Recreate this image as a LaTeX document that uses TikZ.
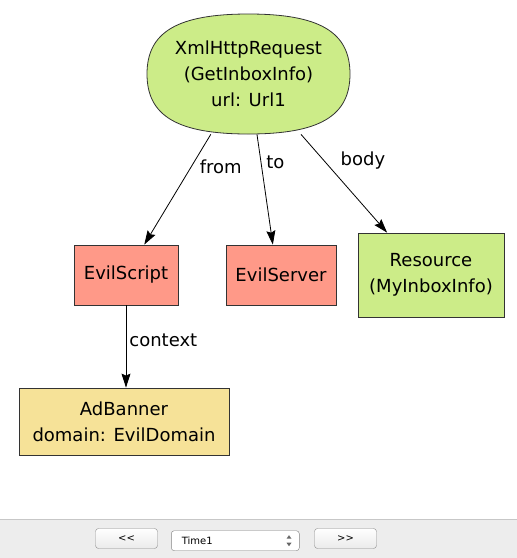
\documentclass[tikz,border=0pt]{standalone}
\usepackage{fontspec}
\setmainfont{DejaVu Sans}
\usetikzlibrary{positioning,arrows.meta}
\definecolor{reqgreen}{RGB}{204,236,136}
\definecolor{evilred}{RGB}{255,153,136}
\definecolor{adyellow}{RGB}{246,226,152}

\begin{document}
\begin{tikzpicture}[x=1pt,y=-1pt,
   box/.style={draw=black!80,line width=0.8pt,align=center,inner sep=0pt,font=\fontsize{18}{26}\selectfont},
   lbl/.style={font=\fontsize{18}{22}\selectfont,inner sep=0pt},
   btn/.style={draw=black!45,rounded corners=3pt,top color=white,bottom color=black!8,minimum width=62pt,minimum height=20pt,inner sep=0pt,font=\fontsize{10}{12}\selectfont}]
   \useasboundingbox (0,0) rectangle (517,558);
   % rounded blob behind the request node
   \path[draw=black!80,line width=0.8pt,fill=reqgreen] (147,74) .. controls (147,32) and (177.5,14) .. (248.5,14)
      .. controls (319.5,14) and (350,32) .. (350,74) .. controls (350,116) and (319.5,134) .. (248.5,134)
      .. controls (177.5,134) and (147,116) .. (147,74) -- cycle;
   \node[box,draw=none,minimum width=203pt,minimum height=120pt] (req) at (248.5,74) {XmlHttpRequest\\(GetInboxInfo)\\url: Url1};
   \node[box,fill=evilred,minimum width=104pt,minimum height=60pt] (es) at (126,275) {EvilScript};
   \node[box,fill=evilred,minimum width=110pt,minimum height=60pt] (sv) at (281,275) {EvilServer};
   \node[box,fill=reqgreen,minimum width=146pt,minimum height=84pt] (rs) at (431,275) {Resource\\(MyInboxInfo)};
   \node[box,fill=adyellow,minimum width=210pt,minimum height=67pt] (ad) at (124,421.5) {AdBanner\\domain: EvilDomain};
   \path[-{Stealth[length=14pt,width=9pt,inset=2pt]},line width=0.8pt]
   (req.238) edge node[pos=.29,right=8pt,lbl] {from} (es.59)
   (req.278) edge node[pos=.25,right=5pt,lbl] {to} (sv.105)
   (req.311) edge node[pos=.27,right=16pt,lbl] {body} (rs.136)
   (es.south) edge node[pos=.43,right=3pt,lbl] {context} (es.south|-ad.north);
   % toolbar
   \fill[black!7] (0,519) rectangle (517,558);
   \draw[black!22] (0,519) -- (517,519);
   \node[btn] (prev) at (126.5,538.5) {<{}<};
   \node[btn,draw=black!50,top color=white,bottom color=white,minimum width=128pt] (time) at (235.3,540.7) {};
   \node[font=\fontsize{10}{12}\selectfont,anchor=west,inner sep=0pt] (tname) at ([xshift=10.5pt]time.west) {Time1};
   \fill[black!60] ([xshift=-10.5pt,yshift=5.5pt]time.east) -- ++(-2.5,3.5) -- ++(5,0) -- cycle;
   \fill[black!60] ([xshift=-10.5pt,yshift=-5.5pt]time.east) -- ++(-2.5,-3.5) -- ++(5,0) -- cycle;
   \node[btn] (next) at (345.5,538.5) {>{}>};
\end{tikzpicture}
\end{document}
